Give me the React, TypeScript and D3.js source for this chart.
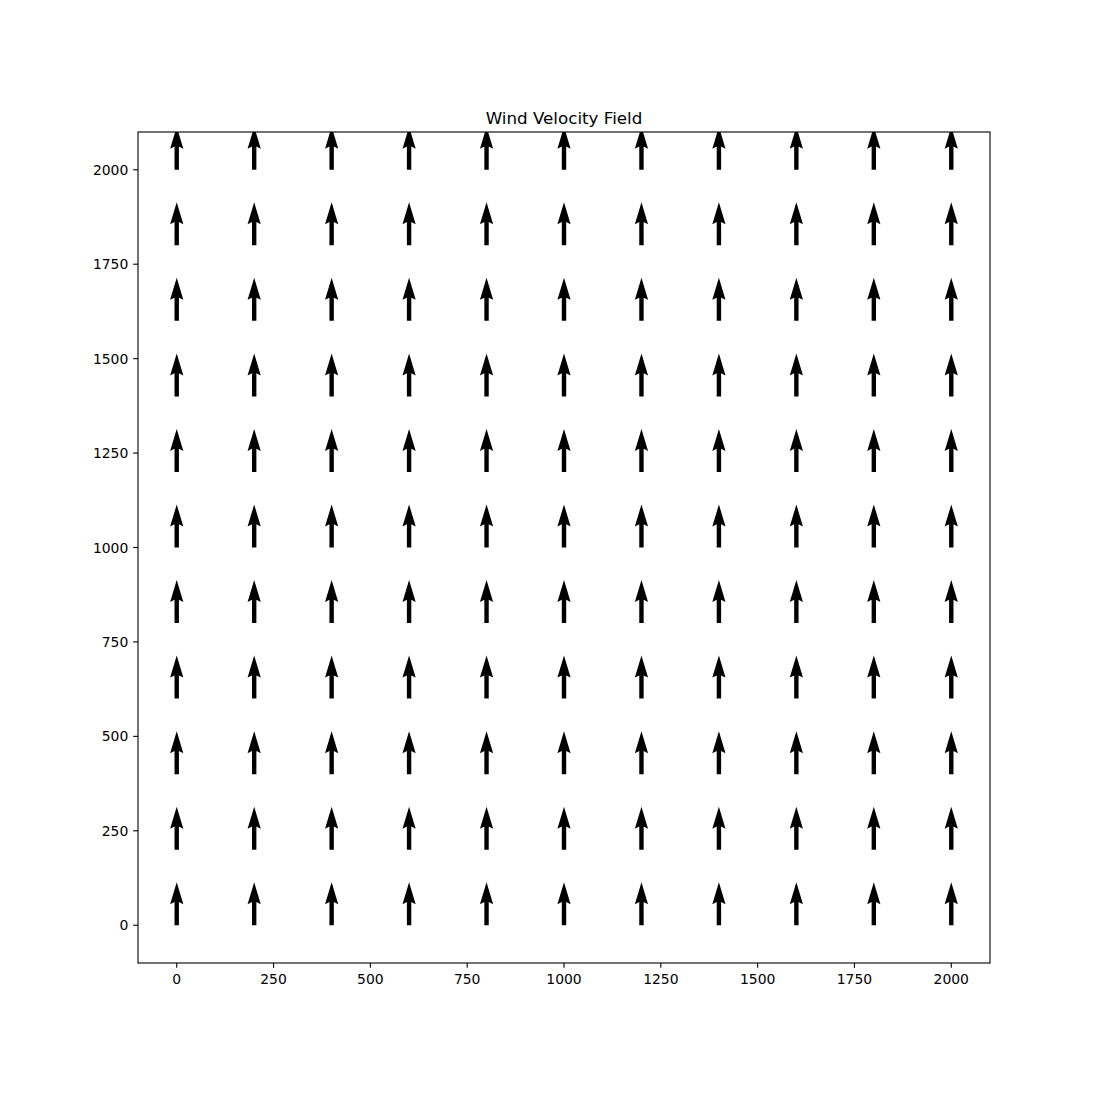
import React from "react";
import * as d3 from "d3";

const xPositions = [0, 200, 400, 600, 800, 1000, 1200, 1400, 1600, 1800, 2000];
const yPositions = [0, 200, 400, 600, 800, 1000, 1200, 1400, 1600, 1800, 2000];
const uValues = [0];
const vValues = [1];
const xTicks = [0, 250, 500, 750, 1000, 1250, 1500, 1750, 2000];
const yTicks = [0, 250, 500, 750, 1000, 1250, 1500, 1750, 2000];
const title = "Wind Velocity Field";

export default function App() {
  const W = 1100, H = 1100;
  const left = 138, right = 990, top = 132, bottom = 963;
  const x = d3.scaleLinear().domain([-100, 2100]).range([left, right]);
  const y = d3.scaleLinear().domain([-100, 2100]).range([bottom, top]);
  const font = "DejaVu Sans, sans-serif";

  // arrow geometry (px)
  const arrowLen = 43; // per unit magnitude
  const sw = 4.4;
  const headLen = 5 * sw;
  const headAxis = 4.5 * sw;
  const headW = 3 * sw;

  const arrows: { x: number; y: number; u: number; v: number }[] = [];
  for (const yy of yPositions) for (const xx of xPositions) arrows.push({ x: xx, y: yy, u: uValues[0], v: vValues[0] });

  const arrowPath = (L: number) => {
    const pts: [number, number][] = [
      [0, -sw / 2],
      [L - headAxis, -sw / 2],
      [L - headLen, -headW / 2],
      [L, 0],
      [L - headLen, headW / 2],
      [L - headAxis, sw / 2],
      [0, sw / 2],
    ];
    return d3.line()(pts) + "Z";
  };

  return (
    <svg width={W} height={H} style={{ position: "absolute", left: 0, top: 0, background: "#fff" }} fontFamily={font}>
      <rect x={0} y={0} width={W} height={H} fill="#fff" />
      <defs>
        <clipPath id="clip">
          <rect x={left} y={top} width={right - left} height={bottom - top} />
        </clipPath>
      </defs>
      <g clipPath="url(#clip)">
        {arrows.map((a, i) => {
          const mag = Math.hypot(a.u, a.v);
          const ang = (Math.atan2(-a.v, a.u) * 180) / Math.PI;
          return (
            <path
              key={i}
              d={arrowPath(mag * arrowLen)}
              transform={`translate(${x(a.x)},${y(a.y)}) rotate(${ang})`}
              fill="#000"
            />
          );
        })}
      </g>
      <rect x={left} y={top} width={right - left} height={bottom - top} fill="none" stroke="#000" strokeWidth={1.1} />
      {xTicks.map((t) => (
        <g key={"x" + t}>
          <line x1={x(t)} x2={x(t)} y1={bottom} y2={bottom + 4.86} stroke="#000" strokeWidth={1.1} />
          <text x={x(t)} y={bottom + 20.5} textAnchor="middle" fontSize={13.9} fill="#000">{t}</text>
        </g>
      ))}
      {yTicks.map((t) => (
        <g key={"y" + t}>
          <line x1={left - 4.86} x2={left} y1={y(t)} y2={y(t)} stroke="#000" strokeWidth={1.1} />
          <text x={left - 9.7} y={y(t)} dy="0.36em" textAnchor="end" fontSize={13.9} fill="#000">{t}</text>
        </g>
      ))}
      <text x={(left + right) / 2} y={top - 8.3} textAnchor="middle" fontSize={16.7} fill="#000">{title}</text>
    </svg>
  );
}
